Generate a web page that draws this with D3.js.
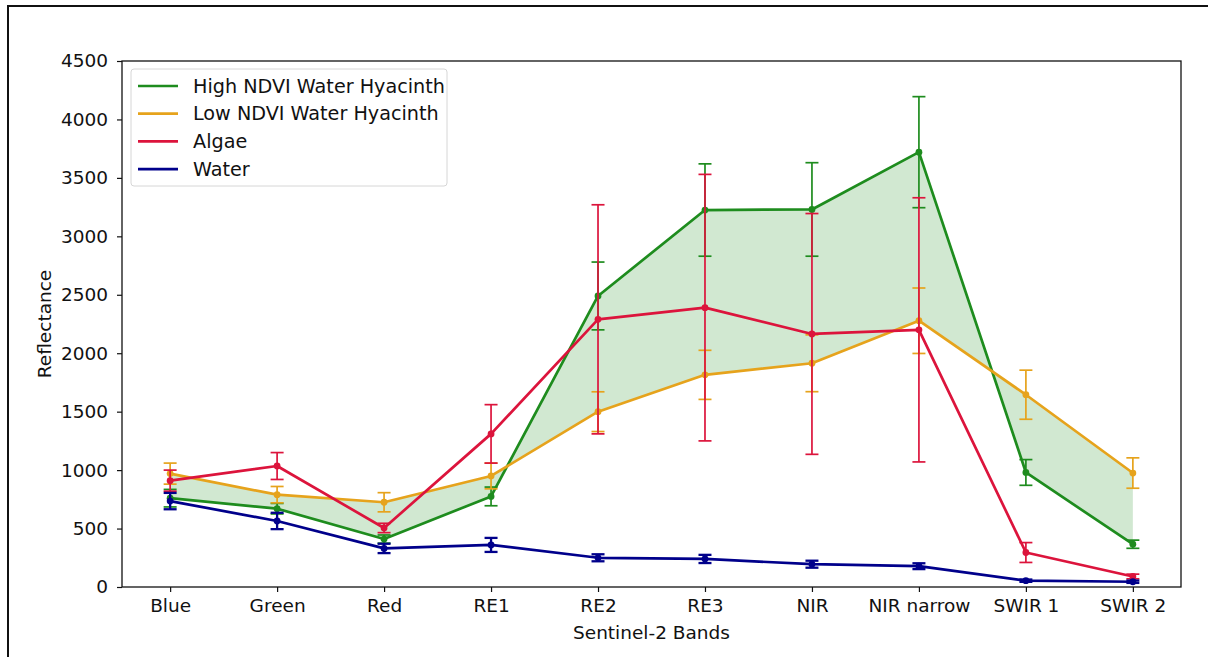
<!DOCTYPE html>
<html>
<head>
<meta charset="utf-8">
<script src="https://cdn.jsdelivr.net/npm/d3@7"></script>
<style>
  html, body { margin: 0; padding: 0; background: #fff; }
  svg { display: block; }
  text { font-family: "DejaVu Sans", sans-serif; fill: #111; }
</style>
</head>
<body>
<svg id="chart" width="1208" height="657"></svg>
<script>
// Sentinel-2 bands on the x axis
const bands = ["Blue", "Green", "Red", "RE1", "RE2", "RE3", "NIR", "NIR narrow", "SWIR 1", "SWIR 2"];
const yTicks = [0, 500, 1000, 1500, 2000, 2500, 3000, 3500, 4000, 4500];

// Mean reflectance per band
const highNdvi = [760, 670, 410, 775, 2490, 3225, 3230, 3720, 980, 366];
const lowNdvi  = [970, 790, 725, 950, 1500, 1815, 1914, 2278, 1645, 975];
const algae    = [910, 1035, 505, 1310, 2290, 2390, 2165, 2200, 295, 90];
const water    = [735, 565, 330, 360, 250, 240, 195, 178, 54, 45];

// Standard deviation per band
const highNdviSd = [75, 45, 35, 80, 290, 395, 400, 475, 110, 35];
const lowNdviSd  = [90, 70, 82, 110, 170, 210, 243, 280, 210, 130];
const algaeSd    = [90, 115, 40, 250, 980, 1140, 1030, 1130, 85, 20];
const waterSd    = [70, 70, 40, 60, 30, 35, 30, 25, 10, 10];

const seriesNames = ["High NDVI Water Hyacinth", "Low NDVI Water Hyacinth", "Algae", "Water"];
const seriesColors = ["#1e8c1e", "#e6a31c", "#dc143c", "#00008b"];

const series = [
  { name: seriesNames[0], values: highNdvi, sd: highNdviSd, color: seriesColors[0], ew: 1.7 },
  { name: seriesNames[1], values: lowNdvi,  sd: lowNdviSd,  color: seriesColors[1], ew: 1.7 },
  { name: seriesNames[2], values: algae,    sd: algaeSd,    color: seriesColors[2], ew: 1.7 },
  { name: seriesNames[3], values: water,    sd: waterSd,    color: seriesColors[3], ew: 2.3 }
];

const FONT = 18.5;
const svg = d3.select("#chart");
const W = 1208, H = 657;

// Figure frame
svg.append("rect").attr("x", 8).attr("y", 6).attr("width", W + 20).attr("height", H + 20)
  .attr("fill", "none").attr("stroke", "#111").attr("stroke-width", 2);

const plotLeft = 122, plotRight = 1181, plotTop = 61, plotBottom = 587;

const x = d3.scaleLinear().domain([-0.45, bands.length - 1 + 0.45]).range([plotLeft, plotRight]);
const y = d3.scaleLinear().domain([0, 4500]).range([plotBottom, plotTop]);

const g = svg.append("g");

// Shaded band between the two water hyacinth curves
const area = d3.area()
  .x((d, i) => x(i))
  .y0((d, i) => y(lowNdvi[i]))
  .y1((d, i) => y(highNdvi[i]));
g.append("path").datum(highNdvi).attr("d", area)
  .attr("fill", "green").attr("fill-opacity", 0.18);

const line = d3.line().x((d, i) => x(i)).y(d => y(d));

series.forEach(s => {
  const sg = g.append("g");
  sg.append("path").datum(s.values).attr("d", line)
    .attr("fill", "none").attr("stroke", s.color).attr("stroke-width", 2.7)
    .attr("stroke-linejoin", "round");
  const cap = 6.5;
  s.values.forEach((v, i) => {
    const hi = y(v + s.sd[i]), lo = y(v - s.sd[i]), cx = x(i);
    sg.append("line").attr("x1", cx).attr("x2", cx).attr("y1", hi).attr("y2", lo)
      .attr("stroke", s.color).attr("stroke-width", s.ew);
    [hi, lo].forEach(cy => sg.append("line")
      .attr("x1", cx - cap).attr("x2", cx + cap).attr("y1", cy).attr("y2", cy)
      .attr("stroke", s.color).attr("stroke-width", s.ew));
    sg.append("circle").attr("cx", cx).attr("cy", y(v)).attr("r", 3.4).attr("fill", s.color);
  });
});

// Axes
const xAxis = d3.axisBottom(x).tickValues(d3.range(bands.length))
  .tickFormat(i => bands[i]).tickSize(5).tickPadding(7);
const yAxis = d3.axisLeft(y).tickValues(yTicks).tickFormat(d3.format("d"))
  .tickSize(5).tickPadding(9);

const gx = svg.append("g").attr("transform", `translate(0,${plotBottom})`).call(xAxis);
const gy = svg.append("g").attr("transform", `translate(${plotLeft},0)`).call(yAxis);
[gx, gy].forEach(a => {
  a.select(".domain").remove();
  a.selectAll(".tick line").attr("stroke", "#111").attr("stroke-width", 1.2);
  a.selectAll("text").attr("font-size", FONT).attr("font-family", "DejaVu Sans").attr("fill", "#111");
});

// Plot frame
svg.append("rect").attr("x", plotLeft).attr("y", plotTop)
  .attr("width", plotRight - plotLeft).attr("height", plotBottom - plotTop)
  .attr("fill", "none").attr("stroke", "#111").attr("stroke-width", 1.3);

// Axis titles
svg.append("text").attr("x", (plotLeft + plotRight) / 2).attr("y", 633).attr("dy", "0.35em")
  .attr("text-anchor", "middle").attr("font-size", FONT).text("Sentinel-2 Bands");
svg.append("text").attr("transform", `translate(45,${(plotTop + plotBottom) / 2}) rotate(-90)`)
  .attr("dy", "0.35em").attr("text-anchor", "middle").attr("font-size", FONT).text("Reflectance");

// Legend
const lg = svg.append("g").attr("transform", "translate(131,69)");
lg.append("rect").attr("width", 316).attr("height", 117).attr("rx", 3)
  .attr("fill", "#fff").attr("fill-opacity", 0.8).attr("stroke", "#d6d6d6");
series.forEach((s, i) => {
  const ly = 17 + i * 27.7;
  lg.append("line").attr("x1", 7).attr("x2", 47).attr("y1", ly).attr("y2", ly)
    .attr("stroke", s.color).attr("stroke-width", 2.7);
  lg.append("text").attr("x", 62).attr("y", ly).attr("dy", "0.35em")
    .attr("font-size", 19.2).text(s.name);
});
</script>
</body>
</html>
